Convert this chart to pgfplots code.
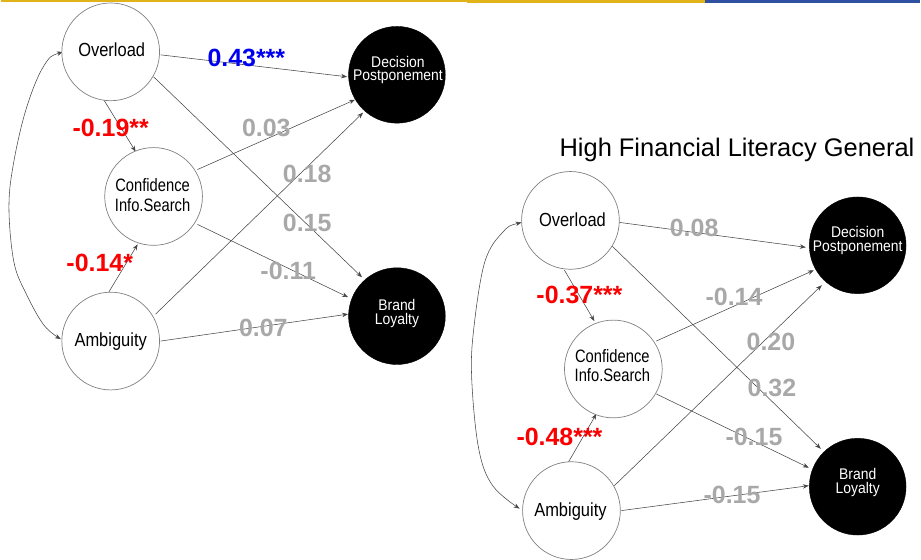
\documentclass[border=0pt]{standalone}
\usepackage{pgfplots}
\pgfplotsset{compat=1.18}
\usepackage{fontspec}
\setmainfont{Liberation Sans}
\usetikzlibrary{arrows.meta}
\definecolor{topyellow}{RGB}{224,180,24}
\definecolor{topblue}{RGB}{46,80,160}
\definecolor{lblgray}{RGB}{168,168,168}
\definecolor{lblred}{RGB}{250,0,0}
\definecolor{lblblue}{RGB}{0,0,240}
\definecolor{arrgray}{RGB}{70,70,70}
\tikzset{
  arr/.style={draw=arrgray, line width=0.55pt, -{Stealth[length=6pt,width=4.5pt]}},
  curv/.style={draw=arrgray, line width=0.55pt, {Stealth[length=6pt,width=4.5pt]}-{Stealth[length=6pt,width=4.5pt]}},
  lbl/.style={anchor=base, font=\fontsize{25}{28}\selectfont\bfseries},
  nt/.style={anchor=base, font=\fontsize{19}{20}\selectfont, xscale=0.87, inner sep=0pt},
  ct/.style={anchor=base, align=center, font=\fontsize{18}{20}\selectfont, xscale=0.82, inner sep=0pt},
  bt/.style={anchor=base, align=center, font=\fontsize{15.5}{13.8}\selectfont, xscale=0.9, inner sep=0pt, text=white},
}
\begin{document}
\begin{tikzpicture}
\begin{axis}[
  set layers,
  width=921pt, height=561pt, scale only axis,
  xmin=0, xmax=921, ymin=0, ymax=561, y dir=reverse,
  axis line style={draw=none}, xtick=\empty, ytick=\empty,
  clip=false,
]
% top strip
\addplot[draw=topyellow, line width=2pt] coordinates {(0,1) (706,1)};
\addplot[draw=topyellow, line width=3pt] coordinates {(467,1.5) (706,1.5)};
\addplot[draw=topblue, line width=3pt] coordinates {(706,1.5) (921,1.5)};
% arrows left
\addplot[arr] coordinates {(160,55) (347,77)};
\addplot[arr] coordinates {(153,77) (362,278)};
\addplot[arr] coordinates {(103,100) (135,152)};
\addplot[arr] coordinates {(197,170) (355,100)};
\addplot[arr] coordinates {(197,225) (348,298)};
\addplot[arr] coordinates {(108,293) (137,245)};
\addplot[arr] coordinates {(155,315) (363,113)};
\addplot[arr] coordinates {(160,342) (348,315)};
\addplot[curv, smooth, tension=0.6] coordinates {(62,52) (43,66) (25,110) (12,167) (8,210) (13,263) (25,294) (43,326) (60,340)};
% arrows right
\addplot[arr] coordinates {(620,223) (807,248)};
\addplot[arr] coordinates {(613,247) (822,450)};
\addplot[arr] coordinates {(565,271) (595,322)};
\addplot[arr] coordinates {(657,342) (815,271)};
\addplot[arr] coordinates {(657,395) (810,469)};
\addplot[arr] coordinates {(568,465) (597,415)};
\addplot[arr] coordinates {(615,487) (823,286)};
\addplot[arr] coordinates {(622,512) (810,487)};
\addplot[curv, smooth, tension=0.6] coordinates {(522,223) (503,233) (485,263) (474,330) (472,380) (479,450) (493,487) (520,510)};
% nodes
\addplot[only marks, mark=*, mark size=49pt, mark options={draw=gray, fill=white, line width=0.7pt}]
  coordinates {(110,52) (153,197) (110,342) (571,221) (614,370) (572,512)};
\addplot[only marks, mark=*, mark size=48.5pt, mark options={draw=black, fill=black}]
  coordinates {(397,75) (397,317) (859,246) (859,488)};
\begin{pgfonlayer}{axis foreground}
% node texts left
\node[nt] at (111,57) {Overload};
\node[nt] at (110,347) {Ambiguity};
\node[ct] at (152,212) {Confidence\\Info.Search};
\node[bt] at (398,81) {Decision\\Postponement};
\node[bt] at (397,325) {Brand\\Loyalty};
% node texts right
\node[nt] at (573,227) {Overload};
\node[nt] at (571,518) {Ambiguity};
\node[ct] at (613,383) {Confidence\\Info.Search};
\node[bt] at (859,252) {Decision\\Postponement};
\node[bt] at (859,495) {Brand\\Loyalty};
% title
\node[anchor=base, font=\fontsize{25.5}{28}\selectfont] at (738,157) {High Financial Literacy General};
% coefficient labels left
\node[lbl, text=lblblue] at (246,67) {0.43***};
\node[lbl, text=lblred] at (110,137) {-0.19**};
\node[lbl, text=lblgray] at (266,137) {0.03};
\node[lbl, text=lblgray] at (307,183) {0.18};
\node[lbl, text=lblgray] at (307,232) {0.15};
\node[lbl, text=lblgray] at (288,280) {-0.11};
\node[lbl, text=lblred] at (99,272) {-0.14*};
\node[lbl, text=lblgray] at (263,337) {0.07};
% coefficient labels right
\node[lbl, text=lblgray] at (695,237) {0.08};
\node[lbl, text=lblred] at (580,304) {-0.37***};
\node[lbl, text=lblgray] at (735,306) {-0.14};
\node[lbl, text=lblgray] at (772,351) {0.20};
\node[lbl, text=lblgray] at (773,398) {0.32};
\node[lbl, text=lblred] at (560,447) {-0.48***};
\node[lbl, text=lblgray] at (755,447) {-0.15};
\node[lbl, text=lblgray] at (733,505) {-0.15};
\end{pgfonlayer}
\end{axis}
\end{tikzpicture}
\end{document}
